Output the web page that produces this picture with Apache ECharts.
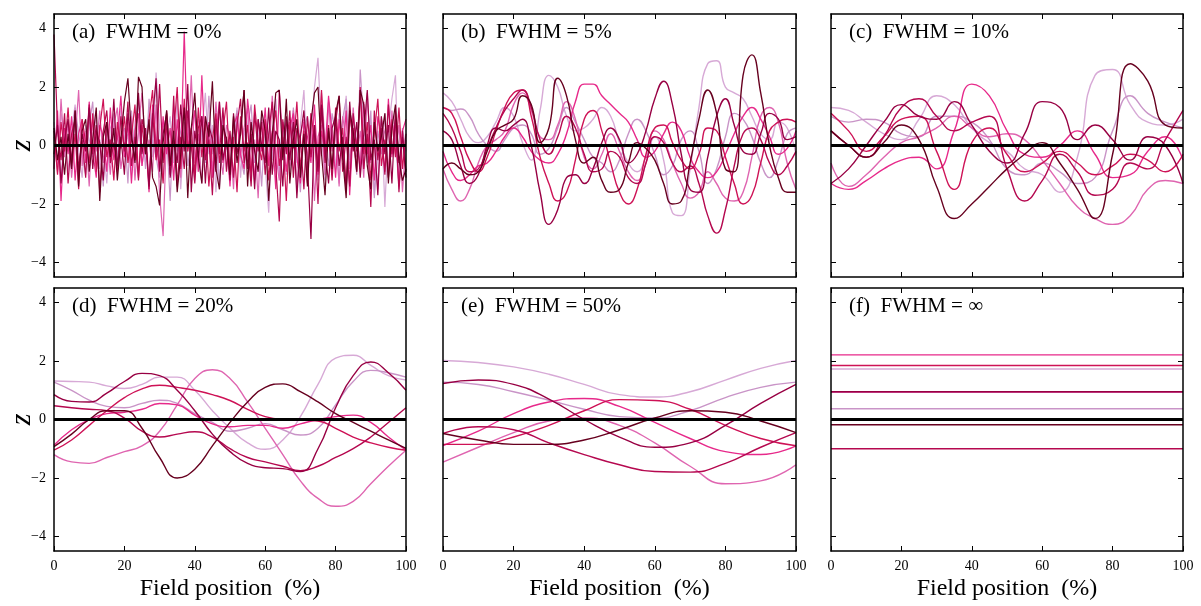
<!DOCTYPE html>
<html><head><meta charset="utf-8">
<script src="https://cdn.jsdelivr.net/npm/echarts@6/dist/echarts.min.js"></script>
<style>html,body{margin:0;padding:0;background:#fff}#c{width:1201px;height:606px}</style>
</head><body><div id="c"></div>
<script>
const X_TICKS = [0, 20, 40, 60, 80, 100];
const Y_TICKS = [-4, -2, 0, 2, 4];
const PANEL_LABELS = ['(a)  FWHM = 0%', '(b)  FWHM = 5%', '(c)  FWHM = 10%', '(d)  FWHM = 20%', '(e)  FWHM = 50%', '(f)  FWHM = \u221e'];
const X_TITLE = 'Field position  (%)';
const Y_TITLE = 'z';
const COLORS = ['#d7a9d6', '#c994c7', '#df65b0', '#e7298a', '#ce1256', '#b5084f', '#980043', '#67001f'];

// (a) FWHM = 0% : 101 samples per curve
const A0 = [0.8,-0.6,1.1,0.3,-0.9,0.5,1.4,-0.2,-1.1,0.7,0.2,-0.4,1.2,-0.8,0.1,-1.3,0.6,0.9,-0.5,1.3,-0.3,0.4,-1.0,0.8,1.6,-0.7,0.2,1.1,-0.4,2.5,0.6,-1.2,0.3,1.0,-0.6,1.7,-1.5,0.4,0.9,-0.2,1.2,-0.9,0.5,1.8,-0.3,0.7,-1.6,0.2,1.1,-0.8,0.4,-0.1,1.3,-1.1,0.6,-0.5,0.9,-1.3,0.3,1.0,-0.7,-2.3,0.5,1.4,-0.4,0.8,-1.0,0.2,1.2,-0.6,0.7,1.9,-0.9,0.3,2.0,3.0,0.4,-1.2,1.5,0.6,-0.8,1.1,-0.3,1.7,-1.4,0.9,0.2,-0.6,1.3,-0.2,0.8,-1.7,-0.4,1.0,-2.1,0.5,1.6,2.4,-1.5,0.3,-0.9];
const A1 = [-0.4,0.9,-1.2,0.6,0.1,-0.8,1.3,0.4,-0.3,-1.0,0.7,1.5,-0.6,0.2,-1.4,0.8,-0.1,1.1,-0.9,0.3,0.6,-1.3,1.2,-0.5,0.4,0.9,-0.8,1.6,0.1,-0.4,-1.1,0.8,0.3,-1.9,1.0,-0.2,0.5,1.4,-0.7,0.2,-1.2,0.9,0.4,-0.6,1.7,-0.3,0.6,-1.5,1.1,0.0,-0.8,0.5,1.2,-0.4,-1.0,0.7,1.4,-0.6,0.2,-1.4,0.9,0.3,-0.5,1.6,-1.1,0.4,0.8,-0.9,1.3,-0.2,-1.6,0.6,1.0,-0.4,0.5,-1.2,1.8,0.2,-0.7,1.1,0.4,-1.3,0.9,1.6,-0.5,0.3,-1.0,2.6,0.7,-0.6,1.2,-1.8,0.5,-0.3,1.1,-1.1,0.8,0.2,-1.4,0.6,-0.2];
const A2 = [0.3,-0.9,1.6,-0.4,0.8,-1.1,0.2,1.9,-0.7,0.5,-1.4,0.9,-0.2,1.2,-0.6,0.4,-1.0,0.7,1.3,-0.8,0.1,-0.5,1.0,-1.2,0.6,1.8,-0.3,0.2,-0.9,1.4,-1.7,-3.1,0.5,-0.4,1.2,0.3,-1.1,0.8,-0.2,2.4,-0.6,0.4,-1.3,1.0,0.2,-0.8,1.5,-0.1,-1.0,0.7,0.3,-1.5,1.1,-0.4,0.6,1.3,-0.9,0.2,-1.8,0.9,0.5,-0.6,1.7,-0.3,-1.2,0.8,0.1,-0.7,1.2,-1.6,0.4,0.9,-0.5,1.1,-1.9,0.3,0.7,-1.0,1.5,-0.2,0.6,-1.4,1.0,0.2,-0.8,1.3,-0.4,0.5,-1.1,1.8,-0.6,0.1,-1.5,0.9,0.4,-0.9,1.2,-0.3,0.7,-1.6,0.2];
const A3 = [-0.8,1.2,-1.9,0.6,-0.3,1.0,-1.2,0.4,0.9,-0.6,1.5,-0.2,-1.1,0.7,0.3,-0.9,1.3,-0.5,0.2,1.7,-0.4,0.8,-1.3,0.5,1.1,-0.7,0.3,-1.6,1.4,0.1,-0.8,1.0,-0.3,0.6,-1.2,0.9,-0.5,3.9,-0.1,0.5,1.2,-0.9,2.4,-0.4,0.8,-1.1,0.3,1.5,-0.6,0.2,-1.4,0.7,1.0,-0.3,-0.8,1.6,0.4,-1.2,0.9,-0.2,1.3,-0.7,0.5,-1.5,1.9,0.2,-0.9,0.6,1.1,-0.4,-1.3,0.8,0.3,-0.6,1.4,-1.0,0.5,-0.2,1.7,0.4,-1.1,0.9,-0.5,1.2,-1.7,0.6,0.1,-0.8,1.5,-0.3,0.7,-1.2,1.0,0.3,-0.9,1.6,-0.4,0.8,-1.4,0.5,0.9];
const A4 = [0.5,-1.0,0.8,-0.2,1.3,-0.7,0.4,-1.5,0.9,0.1,-0.6,1.1,-0.9,0.6,1.6,-0.4,0.2,-1.2,0.8,-0.1,1.0,-0.6,0.3,1.4,-1.1,0.7,-0.3,0.9,1.9,-0.5,0.2,-1.3,1.2,-0.7,0.4,2.0,-0.8,1.6,-0.2,0.6,-1.0,1.3,-0.4,0.8,-1.4,0.2,1.1,-0.6,0.5,1.5,-0.9,0.3,-1.6,1.0,-0.2,0.7,-1.1,1.4,0.1,-0.5,0.9,-1.2,0.4,1.2,-0.7,0.3,-1.9,0.8,-0.1,1.5,-0.8,0.5,-1.3,1.1,0.2,-0.6,1.9,-0.4,0.7,-1.0,1.3,-0.2,0.6,-1.5,1.0,0.3,-0.9,2.0,-0.3,0.8,-1.2,0.4,1.6,-0.7,0.2,-1.1,0.9,-0.4,1.3,-0.8,0.4];
const A5 = [3.8,0.6,-0.5,1.1,-1.3,0.4,0.9,-0.8,0.2,-1.1,1.4,-0.3,0.7,-1.6,0.5,1.2,-0.6,0.1,-0.9,1.0,-0.2,1.5,-0.7,0.3,-1.2,0.9,0.4,-1.5,1.1,-0.4,2.1,-0.6,0.8,-1.0,1.7,-1.4,0.3,-0.8,1.2,0.0,-1.3,0.6,1.0,-0.5,0.2,-1.7,0.9,-0.3,1.3,-0.9,0.5,-1.1,0.7,1.6,-0.6,0.1,-1.4,1.1,-0.2,0.8,-1.0,0.4,1.5,-0.7,-2.6,0.9,-0.3,1.2,-1.1,0.6,0.2,-1.5,1.0,-0.4,0.7,-2.0,1.3,-0.6,0.5,-1.2,0.8,1.7,-0.9,0.3,-1.4,1.1,-0.2,1.9,-0.8,0.4,-2.1,1.2,-0.5,0.6,-1.0,1.4,-0.3,0.9,-1.6,0.5,-0.9];
const A6 = [-0.3,0.7,-1.3,0.2,0.9,-0.6,1.2,-1.0,0.4,-0.2,1.3,-0.8,0.5,0.1,-1.2,0.8,-0.4,1.6,-0.7,0.3,-1.0,1.1,0.2,-0.5,1.8,-0.3,0.6,-1.4,0.9,2.3,-0.9,0.4,1.1,-1.1,0.2,-0.6,1.4,-0.2,2.1,-1.6,0.5,-0.4,1.0,-1.3,0.7,0.2,-0.9,1.5,-0.5,0.3,-1.2,1.1,-0.3,0.6,1.9,-0.8,0.4,-1.5,0.9,0.0,-0.6,1.3,-1.0,0.5,0.2,-1.4,1.0,-0.5,0.8,-1.8,0.3,1.2,-0.6,-3.2,0.7,-0.9,1.4,-0.1,-1.3,0.6,1.0,-0.7,0.3,-1.6,1.5,-0.2,0.8,-1.1,0.4,1.9,-0.5,0.2,-1.7,1.0,-0.3,0.7,-1.3,1.2,-0.6,0.3,-1.1];
const A7 = [0.6,-0.5,0.3,-1.0,0.4,-0.8,1.2,-1.4,0.5,0.9,-0.9,0.2,1.3,-1.9,0.3,0.8,-0.4,0.6,-1.2,0.2,1.5,2.3,0.4,-0.6,2.35,2.0,-0.3,0.9,-1.1,-1.4,-2.05,0.1,1.2,-0.7,0.5,-1.6,-0.3,1.3,-1.8,0.6,1.8,-0.4,-1.3,1.0,0.3,2.2,-0.8,-1.5,0.7,0.2,-1.0,1.0,-0.6,0.4,1.9,-1.4,0.8,-0.2,-0.9,1.2,0.5,-1.9,0.3,1.8,1.9,-0.5,1.6,-1.3,0.2,0.9,-1.1,0.4,-1.4,0.8,1.8,2.0,-0.3,-1.7,0.6,-0.8,1.1,1.7,-0.4,-1.8,1.2,0.5,-0.9,1.9,1.4,-0.7,-1.5,0.8,-0.2,0.3,1.1,-1.3,0.6,1.4,-0.5,-1.2,-0.8];

// (b) FWHM = 5% : samples every 2.5 %
const B0 = [1.8,1.5,0.9,0.3,0.1,0.3,0.8,1.3,1.0,0.1,-0.5,1.2,2.4,2.0,1.0,0.5,0.6,0.9,1.3,1.0,0.1,-0.6,-0.9,-0.4,0.3,-0.5,-2.3,-2.4,-0.8,1.3,2.8,2.9,2.0,1.8,1.6,1.0,0.4,0.2,0.8,0.6,-0.3];
const B1 = [1.3,1.2,1.25,1.0,0.4,0.0,-0.2,0.2,0.6,0.7,0.4,-0.3,-0.1,0.6,1.3,0.8,0.2,-0.4,-0.6,-0.9,-0.5,0.4,0.9,0.5,-0.3,-1.0,-0.7,0.2,0.5,-0.2,-1.3,-0.8,0.3,1.1,0.9,0.3,-0.6,-1.1,-0.5,0.4,0.6];
const B2 = [-0.8,-1.5,-1.9,-1.5,-0.6,0.0,0.2,0.5,1.4,1.8,1.2,0.3,0.2,0.7,1.5,0.9,-0.4,-0.8,-0.3,0.4,-0.2,-0.9,-1.2,-0.6,0.5,0.2,-0.6,-1.3,-1.8,-1.6,-0.9,-1.3,-1.8,-1.9,-1.6,-0.4,1.0,1.3,0.8,-0.6,-1.5];
const B3 = [-0.2,-0.9,-1.2,-1.0,-0.7,-0.6,-0.2,0.3,0.6,0.3,-0.2,-0.5,-0.6,-0.3,0.4,1.5,2.1,2.1,1.7,1.4,1.1,0.8,0.2,-0.4,-0.2,0.4,0.8,0.5,-0.4,-0.9,-1.1,-0.9,-0.3,0.4,1.0,1.3,0.9,0.3,-0.3,-0.1,0.5];
const B4 = [1.3,1.1,0.3,-0.5,-0.9,-0.4,0.5,1.3,1.8,1.9,1.0,-0.4,-1.3,-1.9,-1.6,-0.5,0.9,1.2,0.5,-0.6,-1.6,-2.0,-1.5,-0.3,0.6,0.7,0.1,-0.5,-0.8,-0.3,0.6,0.5,-0.4,-1.3,-2.0,-1.7,-0.6,0.5,0.8,0.9,0.8];
const B5 = [1.1,0.6,-0.2,-0.9,-0.8,-0.1,0.6,1.2,1.6,1.9,1.3,0.2,-0.3,0.3,1.0,0.6,-0.3,-0.9,-0.8,-0.2,-0.4,-1.1,-1.3,-0.6,0.3,0.1,-0.6,-0.9,-0.7,-1.3,-2.4,-3.0,-2.2,-0.7,0.4,0.6,0.2,-0.6,-1.0,-0.7,-0.2];
const B6 = [0.5,0.2,-0.7,-1.3,-1.0,0.0,0.6,0.5,0.7,0.9,0.0,-1.6,-2.7,-2.2,-1.1,-1.0,-1.3,-0.8,0.1,0.6,0.2,-0.6,-0.3,0.5,1.6,2.2,1.4,-0.3,-1.5,-1.6,-0.4,1.0,1.6,0.7,-0.2,-0.3,0.4,1.1,0.9,0.2,0.3];
const B7 = [-0.8,-0.6,-0.8,-1.0,-0.9,-0.2,0.5,0.7,0.9,1.7,1.4,0.1,0.6,2.3,1.7,0.2,-0.6,-0.4,-1.2,-1.6,-1.5,-0.6,0.1,-0.1,-0.5,-1.3,-2.0,-1.9,-0.6,0.9,1.9,1.1,-0.8,-0.9,2.4,3.1,1.8,0.0,-1.1,-1.6,-1.6];

// (c) FWHM = 10% : samples every 5 %
const C0 = [1.3,1.2,0.8,0.4,0.2,0.9,1.7,1.4,0.6,0.1,-0.2,-0.8,-1.0,-1.6,-0.4,2.4,2.6,1.4,0.8,0.7,0.9];
const C1 = [1.0,0.8,0.9,0.8,0.4,0.3,1.0,1.0,0.8,0.2,-0.8,-1.0,-0.6,-0.9,-1.3,-1.1,0.5,1.7,1.1,0.8,0.6];
const C2 = [-0.6,-1.4,-1.0,-0.4,0.1,0.3,0.6,1.0,0.6,0.3,0.4,0.2,-0.5,-1.3,-2.1,-2.5,-2.7,-2.4,-1.5,-1.2,-1.3];
const C3 = [-1.3,-1.5,-1.2,-0.8,-0.5,-0.4,-0.8,0.5,2.1,1.7,0.5,-0.3,-0.4,0.0,0.5,-0.3,-1.1,-1.0,-0.2,0.3,-0.5];
const C4 = [1.1,0.5,-0.2,0.3,0.9,1.0,-0.2,-1.5,0.1,0.6,-0.3,-0.9,-0.6,-0.2,-0.6,-1.0,-0.7,-0.3,-0.5,-0.9,-0.3];
const C5 = [0.5,0.0,-0.4,0.3,1.3,1.6,1.0,0.5,0.8,1.0,-0.8,-1.9,-1.2,-0.3,-0.9,-1.7,-1.5,-0.6,-0.8,0.2,1.2];
const C6 = [-1.3,-0.8,0.0,0.8,1.4,1.0,0.9,1.5,0.7,-0.2,-0.6,0.4,1.5,1.3,0.2,0.7,0.2,-0.5,0.3,0.0,-1.3];
const C7 = [0.5,0.0,-0.4,0.1,0.7,0.2,-1.4,-2.5,-2.0,-1.4,-0.8,-0.3,0.1,-0.6,-1.5,-2.5,-0.3,2.8,2.2,0.7,0.6];

// (d) FWHM = 20% : samples every 5 %
const D0 = [1.32,1.3,1.28,1.15,1.06,1.2,1.45,1.45,1.0,0.3,-0.3,-0.8,-1.02,-0.7,0.1,1.2,2.1,2.2,1.85,1.5,1.35];
const D1 = [1.28,1.0,0.66,0.45,0.4,0.55,0.66,0.55,0.2,-0.1,-0.4,-0.3,-0.14,-0.35,-0.53,-0.3,0.5,1.3,1.68,1.6,1.45];
const D2 = [-1.2,-1.45,-1.5,-1.3,-1.1,-0.9,-0.4,0.5,1.4,1.7,1.4,0.6,-0.3,-1.2,-2.1,-2.7,-2.97,-2.8,-2.2,-1.6,-1.05];
const D3 = [-0.88,-0.35,0.0,0.2,0.25,0.35,0.55,0.5,0.15,-0.15,-0.25,-0.2,-0.2,-0.3,-0.15,0.0,0.1,0.15,-0.1,-0.6,-1.05];
const D4 = [-1.05,-0.7,-0.2,0.3,0.75,1.05,1.17,1.1,1.0,0.85,0.65,0.35,0.1,0.0,-0.02,-0.05,-0.3,-0.6,-0.8,-0.95,-1.05];
const D5 = [0.47,0.4,0.35,0.3,0.05,-0.4,-0.6,-0.5,-0.42,-0.6,-1.0,-1.3,-1.45,-1.6,-1.75,-1.6,-1.3,-1.0,-0.6,-0.1,0.4];
const D6 = [0.85,0.62,0.6,0.9,1.3,1.58,1.5,1.0,0.3,-0.5,-1.1,-1.5,-1.65,-1.68,-1.78,-1.0,0.4,1.5,1.97,1.6,1.0];
const D7 = [-0.93,-0.5,0.0,0.3,0.3,-0.3,-1.3,-2.0,-1.7,-0.9,-0.1,0.6,1.1,1.22,0.95,0.6,0.2,-0.1,-0.4,-0.7,-0.99];

// (e) FWHM = 50% : samples every 10 %
const E0 = [2.02,1.95,1.8,1.55,1.2,0.85,0.77,0.95,1.35,1.75,2.02];
const E1 = [1.28,1.2,0.95,0.66,0.35,0.1,0.05,0.3,0.75,1.1,1.28];
const E2 = [-1.46,-0.95,-0.45,-0.05,0.05,-0.2,-0.8,-1.6,-2.2,-2.1,-1.55];
const E3 = [-0.89,-0.4,0.2,0.6,0.72,0.45,-0.1,-0.65,-1.1,-1.2,-0.9];
const E4 = [-0.85,-0.85,-0.6,-0.2,0.3,0.68,0.65,0.35,-0.2,-0.65,-0.9];
const E5 = [-0.48,-0.25,-0.35,-0.8,-1.2,-1.55,-1.78,-1.8,-1.5,-0.95,-0.45];
const E6 = [1.23,1.35,1.2,0.7,0.0,-0.6,-0.95,-0.8,-0.2,0.55,1.2];
const E7 = [-0.48,-0.7,-0.85,-0.85,-0.7,-0.35,0.05,0.3,0.25,-0.05,-0.45];

// (f) FWHM = infinity : one constant value per curve
const F_VALUES = [1.73, 0.37, 0.93, 2.21, 1.85, -1.0, 0.95, -0.18];

const PANELS = [
  {curves: [A0, A1, A2, A3, A4, A5, A6, A7], smooth: false},
  {curves: [B0, B1, B2, B3, B4, B5, B6, B7], smooth: true},
  {curves: [C0, C1, C2, C3, C4, C5, C6, C7], smooth: true},
  {curves: [D0, D1, D2, D3, D4, D5, D6, D7], smooth: true},
  {curves: [E0, E1, E2, E3, E4, E5, E6, E7], smooth: true},
  {curves: F_VALUES.map(v => [v, v]), smooth: false}
];

const FONT = '"Liberation Serif", "DejaVu Serif", serif';
const COLS = [{left: 54, width: 352}, {left: 443, width: 353}, {left: 831, width: 352}];
const ROWS = [{top: 14, height: 263}, {top: 288, height: 263}];

const grids = [], xAxes = [], yAxes = [], series = [], graphics = [];
const frame = {show: true, onZero: false, lineStyle: {color: '#000', width: 1.5}};
const fmt = v => (v < 0 ? '\u2212' + Math.abs(v) : String(v));

PANELS.forEach((panel, p) => {
  const r = Math.floor(p / 3), c = p % 3;
  grids.push({left: COLS[c].left, width: COLS[c].width, top: ROWS[r].top, height: ROWS[r].height, containLabel: false});
  const xBase = {gridIndex: p, type: 'value', min: 0, max: 100, interval: 20, z: 10,
    axisLine: frame, splitLine: {show: false},
    axisTick: {inside: true, length: 5, lineStyle: {color: '#000', width: 1}}};
  xAxes.push(Object.assign({}, xBase, {position: 'bottom',
    axisLabel: {show: r === 1, margin: 8, fontSize: 14, fontFamily: FONT, color: '#000'}}));
  xAxes.push(Object.assign({}, xBase, {position: 'top', axisLabel: {show: false}}));
  const yBase = {gridIndex: p, type: 'value', min: -4.5, max: 4.5, z: 10,
    axisLine: frame, splitLine: {show: false},
    axisTick: {inside: true, length: 5, customValues: Y_TICKS, lineStyle: {color: '#000', width: 1}}};
  yAxes.push(Object.assign({}, yBase, {position: 'left',
    axisLabel: {show: c === 0, customValues: Y_TICKS, formatter: fmt, margin: 8, fontSize: 14, fontFamily: FONT, color: '#000'}}));
  yAxes.push(Object.assign({}, yBase, {position: 'right', axisLabel: {show: false}}));

  panel.curves.forEach((arr, k) => {
    series.push({
      type: 'line', xAxisIndex: 2 * p, yAxisIndex: 2 * p,
      data: arr.map((v, i) => [i * 100 / (arr.length - 1), v]),
      smooth: panel.smooth, showSymbol: false, symbol: 'none', z: 2,
      lineStyle: {color: COLORS[k], width: p === 0 ? 1.2 : 1.4},
      silent: true, animation: false
    });
  });
  series.push({
    type: 'line', xAxisIndex: 2 * p, yAxisIndex: 2 * p,
    data: [[0, 0], [100, 0]], showSymbol: false, symbol: 'none', z: 4,
    lineStyle: {color: '#000', width: 3}, silent: true, animation: false
  });

  graphics.push({type: 'text', left: COLS[c].left + 18, top: ROWS[r].top + 8, z: 20,
    style: {text: PANEL_LABELS[p], font: '21px ' + FONT, fill: '#000'}});
  if (r === 1) {
    graphics.push({type: 'text', x: COLS[c].left + COLS[c].width / 2, y: 589, z: 20,
      style: {text: X_TITLE, font: '24px ' + FONT, fill: '#000', align: 'center', verticalAlign: 'middle'}});
  }
  if (c === 0) {
    graphics.push({type: 'text', x: 22, y: ROWS[r].top + ROWS[r].height / 2, rotation: Math.PI / 2, z: 20,
      style: {text: Y_TITLE, font: 'italic 30px ' + FONT, fill: '#000', align: 'center', verticalAlign: 'middle'}});
  }
});

const chart = echarts.init(document.getElementById('c'), null, {renderer: 'canvas'});
chart.setOption({
  animation: false, backgroundColor: '#fff',
  grid: grids, xAxis: xAxes, yAxis: yAxes, series: series, graphic: graphics
});
</script></body></html>
